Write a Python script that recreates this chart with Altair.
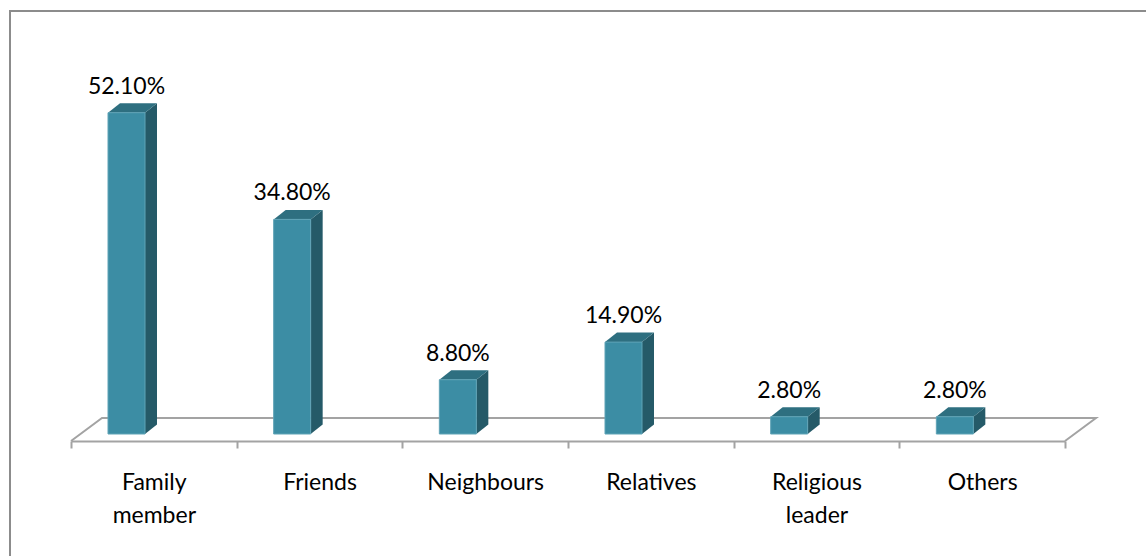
import json
import altair as alt
import pandas as pd

# ---- data ----
CATEGORIES = ["Family member", "Friends", "Neighbours", "Relatives", "Religious leader", "Others"]
LABEL_LINES = [["Family", "member"], ["Friends"], ["Neighbours"], ["Relatives"], ["Religious", "leader"], ["Others"]]
VALUES = [52.1, 34.8, 8.8, 14.9, 2.8, 2.8]
VALUE_LABELS = ["52.10%", "34.80%", "8.80%", "14.90%", "2.80%", "2.80%"]

# ---- layout / style constants ----
PLOT_W, PLOT_H = 994, 370
Y_MAX = 60
N = len(CATEGORIES)
PX_X = PLOT_W / N          # pixels per category unit
PX_Y = PLOT_H / Y_MAX      # pixels per percentage point

BAR_START = 37 / PX_X      # front face left edge inside its category slot
BAR_W = 37 / PX_X          # front face width
DEPTH_X = 12 / PX_X        # 3-D depth, horizontal
DEPTH_Y = 9.5 / PX_Y       # 3-D depth, vertical
FLOOR_DX = 31 / PX_X
FLOOR_BACK = 16 / PX_Y
FLOOR_FRONT = -7 / PX_Y

FRONT = "#3C8DA4"
SIDE = "#255A68"
TOP = "#2E6F80"
GRID = "#A3A3A3"
FONT = "Lato"
FS = 23

# ---- derived tables ----
front_rows, side_rows, top_rows = [], [], []
for i, (c, v, lab) in enumerate(zip(CATEGORIES, VALUES, VALUE_LABELS)):
    xl = i + BAR_START
    xr = xl + BAR_W
    front_rows.append(dict(cat=c, x=xl, x2=xr, y=0.0, y2=v, xc=(xl + xr) / 2, label=lab))
    side_rows += [
        dict(cat=c, x=xr, y=0.0, y2=v),
        dict(cat=c, x=xr + DEPTH_X, y=DEPTH_Y, y2=v + DEPTH_Y),
    ]
    top_rows += [
        dict(cat=c, x=xl, y=v, y2=v),
        dict(cat=c, x=xl + DEPTH_X, y=v, y2=v + DEPTH_Y),
        dict(cat=c, x=xr, y=v, y2=v + DEPTH_Y),
        dict(cat=c, x=xr + DEPTH_X, y=v + DEPTH_Y, y2=v + DEPTH_Y),
    ]
front = pd.DataFrame(front_rows)
side = pd.DataFrame(side_rows)
top = pd.DataFrame(top_rows)
floor = pd.DataFrame(dict(
    x=[0, FLOOR_DX, N + FLOOR_DX, N],
    y=[FLOOR_FRONT, FLOOR_BACK, FLOOR_BACK, FLOOR_FRONT],
    o=[0, 1, 2, 3],
))

xs = alt.Scale(domain=[0, N], nice=False, zero=False)
ys = alt.Scale(domain=[0, Y_MAX], nice=False, zero=False)

label_expr = "datum.value % 1 == 0 ? '' : " + json.dumps(LABEL_LINES) + "[floor(datum.value)]"
x_axis = alt.Axis(
    values=[k / 2 for k in range(2 * N + 1)],
    title=None, grid=False, offset=7,
    domain=True, domainColor=GRID, domainWidth=2,
    ticks=True, tickColor=GRID, tickWidth=2, tickSize=7,
    tickOpacity={"condition": {"test": "datum.value % 1 != 0", "value": 0}, "value": 1},
    labelExpr=label_expr, labelFont=FONT, labelFontSize=FS, labelColor="#000000",
    labelAlign="center", labelBaseline="top", labelPadding=23, labelLineHeight=33,
    labelOverlap=False, labelFlush=False, labelBound=False,
)


def X(field="x"):
    return alt.X(f"{field}:Q", scale=xs, axis=x_axis)


def Y(field="y"):
    return alt.Y(f"{field}:Q", scale=ys, axis=None)


frame = alt.Chart(pd.DataFrame({"a": [0]})).mark_rect(
    fillOpacity=0, stroke="#8C8C8C", strokeWidth=2
).encode(x=alt.value(-61), x2=alt.value(1160), y=alt.value(-53), y2=alt.value(600))

floor_line = alt.Chart(floor).mark_line(color=GRID, strokeWidth=2).encode(
    x=X(), y=Y(), order="o:Q"
)

front_bar = alt.Chart(front).mark_rect(
    color=FRONT, stroke="#5FA3B6", strokeWidth=1
).encode(x=X(), x2="x2:Q", y=Y(), y2="y2:Q")

side_face = alt.Chart(side).mark_area(color=SIDE, interpolate="linear").encode(
    x=X(), y=Y(), y2="y2:Q", detail="cat:N"
)

top_face = alt.Chart(top).mark_area(color=TOP, interpolate="linear").encode(
    x=X(), y=Y(), y2="y2:Q", detail="cat:N"
)

labels = alt.Chart(front).mark_text(
    font=FONT, fontSize=FS, color="#000000", baseline="alphabetic", align="center", dy=-19
).encode(x=X("xc"), y=Y("y2"), text="label:N")

chart = alt.layer(frame, floor_line, side_face, top_face, front_bar, labels).properties(
    width=PLOT_W, height=PLOT_H,
    autosize=alt.AutoSizeParams(type="none"),
    padding={"left": 71, "top": 64, "right": 81, "bottom": 122},
    background="#FFFFFF",
).configure_view(stroke=None)

chart.save("out.html", embed_options={"renderer": "svg", "actions": False})
